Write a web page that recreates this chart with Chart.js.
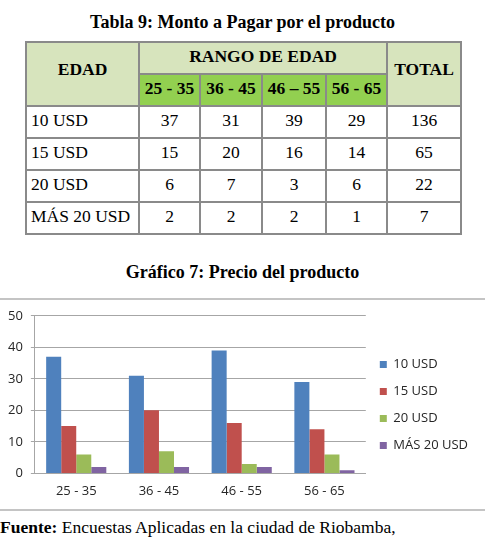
<!DOCTYPE html>
<html>
<head>
<meta charset="utf-8">
<script src="https://cdn.jsdelivr.net/npm/chart.js@4/dist/chart.umd.min.js"></script>
<style>
    body { margin: 0; width: 485px; height: 545px; background: #fff; position: relative; overflow: hidden; font-family: "Liberation Serif", "Times New Roman", serif; color: #000; }
    .title { position: absolute; left: 0; width: 485px; text-align: center; font-weight: bold; font-size: 18px; }
    #tabla { position: absolute; left: 25px; top: 41px; border-collapse: collapse; table-layout: fixed; width: 437px; font-size: 17.5px; font-family: "Liberation Serif", serif; }
    #tabla td { border: 2px solid #8a8a8a; padding: 0 4px; line-height: 20px; vertical-align: top; padding-top: 3px; }
    #tabla .h { background: #d7e4bd; font-weight: bold; text-align: center; }
    #tabla .edad { background: #92d050; font-weight: bold; text-align: center; }
    #tabla .mid { vertical-align: middle; padding-top: 0; padding-bottom: 10px; }
    #tabla .n { text-align: center; }
    .frame { position: absolute; left: 0; width: 485px; height: 2px; background: #c4c4c4; }
    #chartBox { position: absolute; left: 0; top: 300px; width: 485px; height: 209px; }
    .fuente { position: absolute; left: 0; top: 517px; font-size: 17.5px; white-space: nowrap; }
</style>
</head>
<body>
<div class="title" style="top: 12px;">Tabla 9: Monto a Pagar por el producto</div>
<table id="tabla">
    <colgroup>
        <col style="width: 113px"><col style="width: 61px"><col style="width: 62px">
        <col style="width: 64px"><col style="width: 61px"><col style="width: 74px">
    </colgroup>
    <tbody id="tbody"></tbody>
</table>

<div class="title" style="top: 262px;">Gráfico 7: Precio del producto</div>
<div class="frame" style="top: 298px;"></div>
<div id="chartBox"><canvas id="precioGraph" width="485" height="209"></canvas></div>
<div class="frame" style="top: 509px;"></div>
<div class="fuente"><b>Fuente:</b> Encuestas Aplicadas en la ciudad de Riobamba,</div>

<script>
// rangos de edad (categorias del eje x)
const rangos = ['25 - 35', '36 - 45', '46 - 55', '56 - 65'];
const rangosTabla = ['25 - 35', '36 - 45', '46 – 55', '56 - 65'];
// montos a pagar (series)
const montos = ['10 USD', '15 USD', '20 USD', 'MÁS 20 USD'];
const usd10 = [37, 31, 39, 29];
const usd15 = [15, 20, 16, 14];
const usd20 = [6, 7, 3, 6];
const mas20 = [2, 2, 2, 1];
const totales = [136, 65, 22, 7];
const yTicks = [0, 10, 20, 30, 40, 50];

const colores = ['#4f81bd', '#c0504d', '#9bbb59', '#8064a2'];
const series = [usd10, usd15, usd20, mas20];

document.addEventListener('DOMContentLoaded', () => {
    createTabla();
    createPrecioGraph();
});

function createTabla() {
    const tbody = document.getElementById('tbody');
    let html = '';
    html += '<tr style="height:32px"><td class="h mid" rowspan="2">EDAD</td>'
        + '<td class="h" colspan="4">RANGO DE EDAD</td>'
        + '<td class="h mid" rowspan="2">TOTAL</td></tr>';
    html += '<tr style="height:32px">';
    rangosTabla.forEach(r => { html += `<td class="edad">${r}</td>`; });
    html += '</tr>';
    montos.forEach((m, i) => {
        html += `<tr style="height:32px"><td>${m}</td>`;
        series[i].forEach(v => { html += `<td class="n">${v}</td>`; });
        html += `<td class="n">${totales[i]}</td></tr>`;
    });
    tbody.innerHTML = html;
}

function createPrecioGraph() {
    const ctx = document.getElementById('precioGraph').getContext('2d');

    const datasets = montos.map((m, i) => ({
        label: m,
        data: series[i],
        backgroundColor: colores[i],
        borderWidth: 0,
        barPercentage: 1,
        categoryPercentage: 0.727
    }));

    const fuente = { family: '"Open Sans", sans-serif', size: 13 };

    new Chart(ctx, {
        type: 'bar',
        data: {
            labels: rangos,
            datasets: datasets
        },
        options: {
            responsive: false,
            animation: false,
            layout: {
                padding: { left: 0, top: 13, right: 7, bottom: 0 }
            },
            plugins: {
                legend: {
                    position: 'right',
                    fullSize: false,
                    // titulo vacio: solo baja un poco los items
                    title: { display: true, text: ' ', font: { size: 10 }, padding: 4.5 },
                    labels: {
                        boxWidth: 7,
                        boxHeight: 7,
                        padding: 14,
                        color: '#262626',
                        font: fuente
                    }
                },
                tooltip: { enabled: false }
            },
            scales: {
                x: {
                    grid: { display: false, drawTicks: false },
                    border: { color: '#a6a6a6', width: 1 },
                    ticks: { color: '#262626', font: fuente, padding: 10, minRotation: 0, maxRotation: 0 }
                },
                y: {
                    min: yTicks[0],
                    max: yTicks[yTicks.length - 1],
                    afterBuildTicks: axis => { axis.ticks = yTicks.map(v => ({ value: v })); },
                    grid: { color: '#a6a6a6', tickLength: 4 },
                    border: { color: '#a6a6a6', width: 1 },
                    ticks: { color: '#262626', font: fuente, padding: 8 }
                }
            }
        }
    });
}
</script>
</body>
</html>
